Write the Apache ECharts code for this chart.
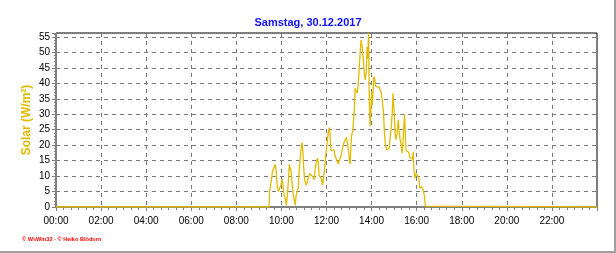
<!DOCTYPE html>
<html>
<head>
<meta charset="utf-8">
<script src="https://cdn.jsdelivr.net/npm/echarts@6/dist/echarts.min.js"></script>
<style>
html,body{margin:0;padding:0;background:#fff;}
#c{width:616px;height:253px;}
</style>
</head>
<body>
<div id="c"></div>
<script>
// Time of day in minutes since 00:00
var times = [0,567,569,574,576,580,583,585,589,592,596,599,602,605,607,610,613,616,619,621,623,626,629,631,635,637,639,642,645,647,650,653,655,657,660,662,666,669,672,676,680,684,687,690,693,696,698,700,702,707,709,711,715,718,722,725,728,730,732,735,740,743,747,751,755,758,762,766,770,773,776,779,781,783,785,787,790,792,795,796,800,802,804,807,810,812,815,818,820,823,826,828,830,832,834,836,838,840,842,846,849,851,855,860,864,866,869,872,874,877,880,883,887,890,893,896,897,900,903,905,908,911,913,916,919,921,923,926,928,930,932,936,939,942,945,949,951,952,955,958,960,963,966,968,971,974,976,978,981,983,984,1440];
// Solar radiation W/m²
var solar = [0,0,5.5,9.3,11.4,12.7,13.8,12.6,6.6,5.0,5.0,7.3,9.1,6.1,3.9,3.0,0.5,3.9,9.3,13.8,12.6,11.4,6.8,4.4,1.7,0.5,3.6,5.0,6.3,11.4,15.8,19.5,20.9,18.0,11.4,8.7,7.0,8.1,9.7,10.8,10.8,9.7,8.8,12.6,14.7,15.8,14.7,10.3,10.4,9.0,7.1,8.1,12.5,16.8,21.1,24.4,25.7,22.3,18.2,18.7,18.5,16.4,15.3,13.9,15.3,16.4,18.5,20.7,21.8,22.5,20.5,17.9,14.8,13.9,20.1,23.4,24.4,28.2,33.0,38.4,38.0,36.9,39.1,44.9,50.7,54.0,51.8,48.0,44.3,41.1,43.8,51.8,48.0,56.3,33.5,26.1,30.9,37.3,33.0,42.2,41.1,39.0,38.8,38.7,38.4,36.8,34.1,29.8,24.4,20.1,18.5,17.9,19.0,23.4,26.6,33.0,36.8,30.9,23.4,21.8,23.9,28.2,25.0,21.8,20.1,17.4,19.5,26.6,30.0,22.3,18.2,17.9,17.7,16.0,15.8,15.5,17.9,13.6,9.3,10.9,11.4,10.4,9.3,6.1,5.6,6.6,6.6,5.0,3.4,0.3,0,0];
var yTicks = [0,5,10,15,20,25,30,35,40,45,50,55];
var xTickLabels = ['00:00','02:00','04:00','06:00','08:00','10:00','12:00','14:00','16:00','18:00','20:00','22:00'];
var title = 'Samstag, 30.12.2017';
var yName = 'Solar (W/m²)';
var footer = '\u00a9 WsWin32 - \u00a9 Heiko Blödorn';

var data = times.map(function(t,i){return [t, solar[i]];});
var chart = echarts.init(document.getElementById('c'), null, {renderer:'canvas'});
var gold = '#e2bb00';
chart.setOption({
  animation:false,
  backgroundColor:'#ffffff',
  title:{text:title,left:'center',top:12,textStyle:{color:'#1010ff',fontSize:11,fontWeight:'bold',fontFamily:'Liberation Sans, Arial'}},
  grid:{left:56,right:19,top:33,bottom:46,show:true,borderColor:'#000',borderWidth:1,backgroundColor:'transparent'},
  xAxis:{type:'value',min:0,max:1440,interval:120,
    axisLine:{lineStyle:{color:'#808080',width:2}},
    axisTick:{length:4,lineStyle:{color:'#808080'}},
    minorTick:{show:true,splitNumber:6,length:3,lineStyle:{color:'#808080'}},
    axisLabel:{color:'#000',fontSize:10,fontFamily:'Liberation Sans, Arial',margin:9,
      formatter:function(v){var i=Math.round(v/120);return (v<1440 && i<xTickLabels.length)?xTickLabels[i]:'';}},
    splitLine:{show:true,lineStyle:{color:'#7a7a7a',type:[4,4],width:1}}
  },
  yAxis:{type:'value',min:0,max:56.3,interval:5,
    name:yName,nameLocation:'middle',nameGap:23,nameRotate:90,nameMoveOverlap:false,
    nameTextStyle:{color:gold,fontSize:12,fontWeight:'bold',fontFamily:'Liberation Sans, Arial'},
    axisLine:{show:true,lineStyle:{color:'#808080',width:1}},
    axisTick:{show:true,length:4,lineStyle:{color:'#808080'}},
    minorTick:{show:true,splitNumber:5,length:2,lineStyle:{color:'#808080'}},
    axisLabel:{color:'#000',fontSize:10,fontFamily:'Liberation Sans, Arial',margin:6,
      formatter:function(v){return yTicks.indexOf(v)>=0?String(v):'';}},
    splitLine:{show:true,lineStyle:{color:'#7a7a7a',type:[4,4],width:1}}
  },
  series:[{type:'line',data:data,symbol:'none',lineStyle:{color:gold,width:1.3},z:5}],
  graphic:[
    {type:'text',left:22,top:236,style:{text:footer,fill:'#ff0000',font:'bold 5.6px "Liberation Sans", Arial'}},
    {type:'rect',shape:{x:614,y:0,width:2,height:253},style:{fill:'#a0a0a0'}},
    {type:'rect',shape:{x:0,y:251,width:616,height:2},style:{fill:'#a0a0a0'}}
  ]
});
</script>
</body>
</html>
